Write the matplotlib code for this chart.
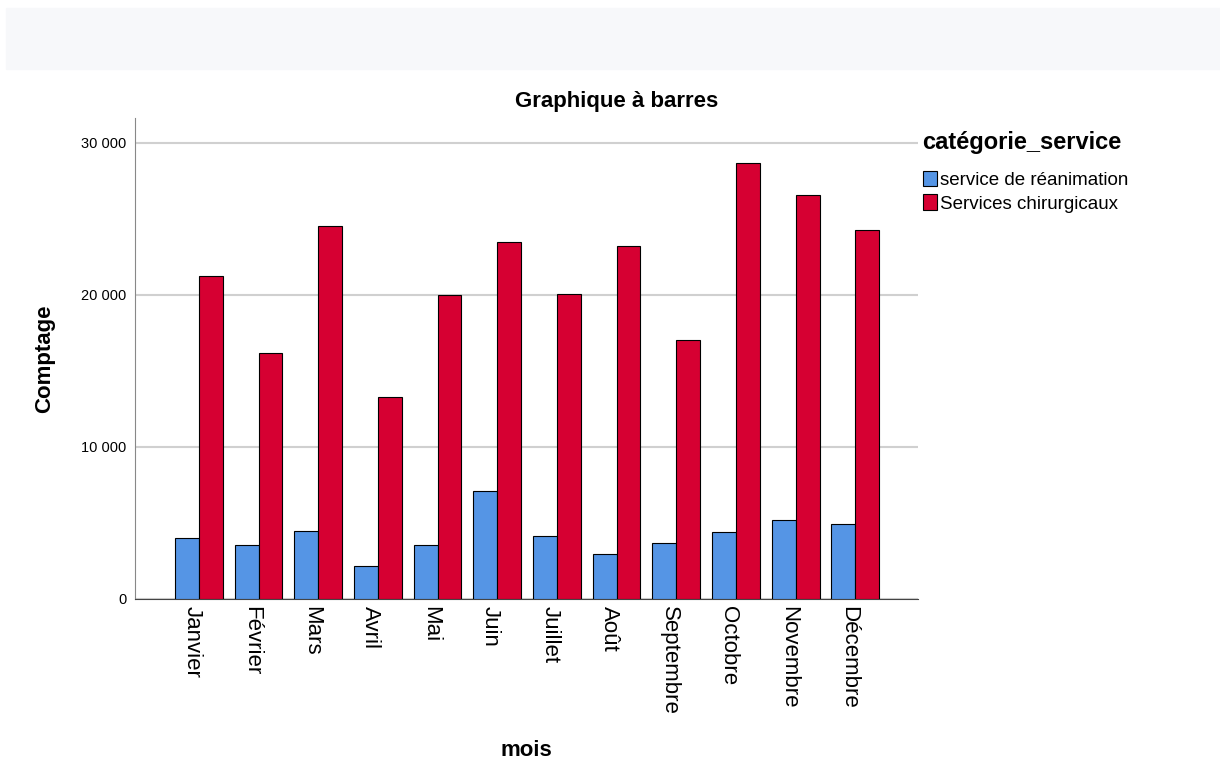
import matplotlib.pyplot as plt
import matplotlib.ticker as mticker
import matplotlib.transforms as mtransforms
import numpy as np

plt.rcParams['font.family'] = ['Liberation Sans', 'DejaVu Sans']

mois = ['Janvier', 'Février', 'Mars', 'Avril', 'Mai', 'Juin', 'Juillet',
        'Août', 'Septembre', 'Octobre', 'Novembre', 'Décembre']
reanimation = [3990, 3550, 4490, 2170, 3550, 7120, 4120, 2960, 3660, 4390, 5190, 4950]
chirurgicaux = [21260, 16150, 24520, 13300, 19990, 23490, 20030, 23230, 17010, 28690, 26580, 24280]
series = ['service de réanimation', 'Services chirurgicaux']
couleurs = ['#5595e5', '#d60032']

fig = plt.figure(figsize=(12.2, 7.6), dpi=100)
fig.patches.append(plt.Rectangle((6 / 1220, 1 - 69 / 760), 1, 61 / 760,
                                 transform=fig.transFigure, color='#f7f8fa', zorder=0))
ax = fig.add_axes([135 / 1220, 1 - 599 / 760, 783 / 1220, 481 / 760])

x = np.arange(len(mois))
w = 0.4
ax.bar(x - w / 2, reanimation, w, color=couleurs[0], edgecolor='black', linewidth=0.8,
       label=series[0], zorder=3)
ax.bar(x + w / 2, chirurgicaux, w, color=couleurs[1], edgecolor='black', linewidth=0.8,
       label=series[1], zorder=3)

ax.set_xlim(-1.07, 12.05)
ax.set_ylim(0, 31620)
ax.set_yticks([0, 10000, 20000, 30000])
ax.yaxis.set_major_formatter(mticker.FuncFormatter(lambda v, p: f'{int(v):,}'.replace(',', ' ')))
ax.grid(axis='y', color='#d0d0d0', linewidth=1.5, zorder=0)
ax.set_axisbelow(True)
ax.tick_params(axis='both', length=0)
ax.tick_params(axis='y', labelsize=10.5, pad=6)
ax.tick_params(axis='x', pad=5)
ax.set_xticks(x)
ax.set_xticklabels(mois, rotation=270, fontsize=16)
decalage = mtransforms.ScaledTranslation(-7 / 100, 0, fig.dpi_scale_trans)
for lab in ax.get_xticklabels():
    lab.set_transform(lab.get_transform() + decalage)
for s in ['top', 'right']:
    ax.spines[s].set_visible(False)
ax.spines['left'].set_color('#888888')
ax.spines['bottom'].set_color('#444444')

ax.set_ylabel('Comptage', fontsize=16, fontweight='bold', labelpad=19)
ax.set_xlabel('mois', fontsize=16, fontweight='bold', labelpad=18)
fig.text(617 / 1220, 1 - 101 / 760, 'Graphique à barres', ha='center', va='center',
         fontsize=16, fontweight='bold')

fig.text(922 / 1220, 1 - 142 / 760, 'catégorie_service', ha='left', va='center',
         fontsize=17, fontweight='bold')
fig.legend(loc='upper left', bbox_to_anchor=(915 / 1220, 1 - 163 / 760), frameon=False,
           fontsize=13.5, handlelength=0.75, handleheight=0.9, handletextpad=0.2,
           labelspacing=0.3, borderaxespad=0)

fig.savefig('out.png', dpi=100)
